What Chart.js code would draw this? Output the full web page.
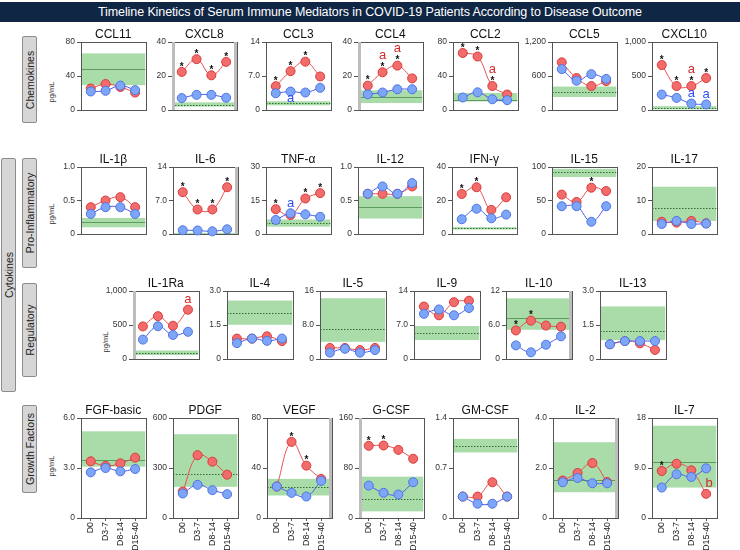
<!DOCTYPE html>
<html><head><meta charset="utf-8">
<script src="https://cdn.jsdelivr.net/npm/chart.js@4.4.1/dist/chart.umd.min.js"></script>
<style>
body{margin:0;width:740px;height:550px;background:#fff;position:relative;overflow:hidden;font-family:"Liberation Sans",Arial,sans-serif;}
#title{position:absolute;left:0;top:2px;width:740px;height:20px;background:#0f2644;color:#fff;font-size:12.5px;line-height:20px;text-align:center;letter-spacing:-0.1px;}
.grp{position:absolute;background:#d6d6d6;border:1px solid #8c8c8c;border-radius:2px;box-sizing:border-box;}
.grp span{position:absolute;left:50%;top:50%;transform:translate(-50%,-50%) rotate(-90deg);white-space:nowrap;font-size:10.5px;color:#222;}
.unit{position:absolute;width:0;height:0;}
.unit span{position:absolute;transform:translate(-50%,-50%) rotate(-90deg);white-space:nowrap;font-size:7.5px;color:#333;}
canvas{position:absolute;}
</style></head><body>
<div id="title">Timeline Kinetics of Serum Immune Mediators in COVID-19 Patients According to Disease Outcome</div>
<div class="grp" style="left:22px;top:36px;width:15px;height:87px"><span>Chemokines</span></div>
<div class="grp" style="left:1px;top:158px;width:15px;height:234px"><span>Cytokines</span></div>
<div class="grp" style="left:22px;top:158px;width:15px;height:110px"><span>Pro-Inflammatory</span></div>
<div class="grp" style="left:22px;top:283px;width:15px;height:94px"><span>Regulatory</span></div>
<div class="grp" style="left:22px;top:405px;width:15px;height:88px"><span>Growth Factors</span></div>
<div class="unit" style="left:51px;top:92px"><span>pg/mL</span></div>
<div class="unit" style="left:51px;top:214px"><span>pg/mL</span></div>
<div class="unit" style="left:105px;top:342px"><span>pg/mL</span></div>
<div class="unit" style="left:51px;top:466px"><span>pg/mL</span></div>
<script>
// ---------------- DATA ----------------
const timepoints = ['D0','D3-7','D8-14','D15-40'];
const mediators = ['CCL11','CXCL8','CCL3','CCL4','CCL2','CCL5','CXCL10',
  'IL-1\u03b2','IL-6','TNF-\u03b1','IL-12','IFN-\u03b3','IL-15','IL-17',
  'IL-1Ra','IL-4','IL-5','IL-9','IL-10','IL-13',
  'FGF-basic','PDGF','VEGF','G-CSF','GM-CSF','IL-2','IL-7'];
const axisMax = [80,40,14,40,80,1200,1000, 1,14,30,1,40,100,20, 1000,3,16,14,12,3, 6,600,80,160,1.4,4,18];
const axisTickText = [['0','40','80'],['0','20','40'],['0','7.0','14'],['0','20','40'],['0','40','80'],['0','600','1,200'],['0','500','1,000'],
  ['0','0.5','1.0'],['0','7.0','14'],['0','15','30'],['0','0.5','1.0'],['0','20','40'],['0','50','100'],['0','10','20'],
  ['0','500','1,000'],['0','1.5','3.0'],['0','8.0','16'],['0','7.0','14'],['0','6.0','12'],['0','1.5','3.0'],
  ['0','3.0','6.0'],['0','300','600'],['0','40','80'],['0','80','160'],['0','0.7','1.4'],['0','2.0','4.0'],['0','9.0','18']];
const redGroup = [[25.3,30.5,27.1,20.5],[22.4,29.9,20.4,28.3],[4.9,8.0,9.95,6.9],[14.3,22.2,26.1,18.6],[67.1,62.9,28.2,18.2],[841,564,422,509],[661,352,352,470],
  [0.40,0.50,0.55,0.40],[8.74,5.12,5.12,9.77],[11.1,8.5,15.9,18.3],[0.60,0.60,0.60,0.71],[23.9,27.9,14.4,21.9],[58.8,47.8,69.1,64.1],[3.65,3.4,3.9,3.2],
  [479,630,489,725],[0.9,0.9,1.0,0.79],[2.6,2.6,2.1,2.6],[10.8,9.0,11.7,12.0],[5.04,6.77,5.9,5.7],[0.65,0.79,0.69,0.40],
  [3.40,3.12,3.28,3.62],[159,377,338,260],[25.2,60.9,41.9,31.3],[115.5,116,109,94.8],[0.30,0.30,0.50,0.30],[1.50,1.80,2.20,1.44],[8.46,9.77,8.58,4.35]];
const blueGroup = [[21.8,22.6,28.7,23.4],[7.0,8.9,8.9,7.2],[3.45,3.8,3.6,4.56],[9.2,10.3,12.2,12.2],[14.7,20.8,12.6,11.6],[722,517,632,549],[227,178,95,82],
  [0.30,0.40,0.40,0.30],[0.79,0.74,0.56,0.98],[6.3,9.3,8.8,7.7],[0.60,0.71,0.60,0.76],[8.8,15.1,9.4,11.6],[41.5,41.5,18.3,41.5],[3.0,3.9,3.0,3.1],
  [285,482,354,400],[0.70,0.9,0.80,0.9],[1.5,2.4,1.5,2.1],[9.3,10.2,9.0,10.5],[2.4,1.18,2.52,4.0],[0.65,0.79,0.79,0.79],
  [2.74,3.0,2.80,2.94],[147,199,167,143],[25.2,20.1,17.2,29.7],[51.9,40.3,37.6,57.2],[0.30,0.20,0.20,0.30],[1.43,1.60,1.39,1.39],[5.48,7.87,7.39,8.94]];
const refLow  = [29.2,2.0,0.97,4.1,10.0,229,10, 0.10,0,3.3,0.23,2.7,85,3.9, 59,1.51,4.04,3.9,5.15,0.83, 3.08,187,18.0,10.6,0.918,1.03,5.48];
const refHigh = [66.6,4.5,1.8,11.6,20.0,414,56, 0.24,0.23,6.5,0.565,4.1,97.3,14.1, 125,2.58,14.3,6.8,10.7,2.32, 5.2,503,31.3,66.2,1.108,3.03,16.6];
const refMid  = [48.2,3.2,1.38,7.6,12.1,312,33, 0.176,0.1,5.0,0.41,3.3,93,7.8, 92,2.02,6.98,5.3,7.16,1.25, 3.46,262,24.6,29.7,1.01,1.51,10.0];
const refMidDotted = [0,1,1,0,0,1,1, 0,1,1,0,1,1,1, 1,1,1,1,0,1, 0,1,1,1,1,0,0];
// significance marks: [panel, group('r'/'b'), timepoint index, text]
const marks = [
  [1,'r',0,'*'],[1,'r',1,'*'],[1,'r',2,'*'],[1,'r',3,'*'],
  [2,'r',0,'*'],[2,'r',1,'*'],[2,'r',2,'*'],[2,'b',1,'a'],
  [3,'r',0,'*'],[3,'r',1,'*'],[3,'r',2,'*'],[3,'r',1,'a'],[3,'r',2,'a'],
  [4,'r',0,'*'],[4,'r',1,'*'],[4,'r',2,'*'],[4,'r',2,'a'],
  [6,'r',0,'*'],[6,'r',1,'*'],[6,'r',2,'*'],[6,'r',3,'*'],[6,'r',2,'a'],[6,'b',2,'a'],[6,'b',3,'a'],
  [8,'r',0,'*'],[8,'r',1,'*'],[8,'r',2,'*'],[8,'r',3,'*'],
  [9,'r',0,'*'],[9,'r',2,'*'],[9,'r',3,'*'],[9,'b',1,'a'],
  [11,'r',0,'*'],[11,'r',1,'*'],
  [12,'r',2,'*'],
  [14,'r',3,'a'],
  [18,'r',0,'*'],[18,'r',1,'*'],
  [22,'r',1,'*'],[22,'r',2,'*'],
  [23,'r',0,'*'],[23,'r',1,'*'],
  [26,'r',0,'*'],[26,'r',3,'b']
];

// ---------------- LAYOUT (plot-area boxes) ----------------
const rows = [
  {top:42, bottom:144, lefts:[81,172,266,358,453,552,652], w:67},
  {top:167, bottom:268, lefts:[81,173,266,358,452,552,652], w:67},
  {top:291, bottom:393, lefts:[133,227,320,414,506,600], w:68},
  {top:418, bottom:518, lefts:[81,173,267,359,453,553,652], w:67}
];
const thickEdges = {1:'lr',3:'l',8:'r',14:'l',18:'r',22:'r',23:'l',25:'r'};

const RED_LINE='#e8504f', RED_FILL='#f36c6c', RED_EDGE='#d83a3a';
const BLUE_LINE='#4d5cf0', BLUE_FILL='#7ea6f8', BLUE_EDGE='#4f74e2';

const deco = {
  id:'deco',
  beforeDatasetsDraw(chart){
    const o = chart.options.plugins.deco, ctx = chart.ctx, a = chart.chartArea, y = chart.scales.y;
    ctx.save();
    ctx.beginPath(); ctx.rect(a.left,a.top,a.width,a.height); ctx.clip();
    const yt = y.getPixelForValue(refHigh[o.k]), yb = y.getPixelForValue(refLow[o.k]);
    ctx.fillStyle = '#a9dca9';
    ctx.fillRect(a.left, yt, a.width, yb-yt);
    const ym = Math.round(y.getPixelForValue(refMid[o.k]))+0.5;
    if (refMidDotted[o.k]) { ctx.strokeStyle='#2f6e2f'; ctx.setLineDash([1.5,1.5]); }
    else { ctx.strokeStyle='#5c9c5c'; ctx.setLineDash([]); }
    ctx.lineWidth = 1;
    ctx.beginPath(); ctx.moveTo(a.left,ym); ctx.lineTo(a.right,ym); ctx.stroke();
    ctx.restore();
    ctx.save();
    ctx.strokeStyle='#555'; ctx.lineWidth=1;
    ctx.strokeRect(Math.round(a.left)+0.5, Math.round(a.top)+0.5, Math.round(a.width), Math.round(a.height));
    const te = thickEdges[o.k] || '';
    ctx.strokeStyle='#bdbdbd'; ctx.lineWidth=3;
    if (te.includes('l')) { ctx.beginPath(); ctx.moveTo(a.left+1.5,a.top); ctx.lineTo(a.left+1.5,a.bottom); ctx.stroke(); }
    if (te.includes('r')) { ctx.beginPath(); ctx.moveTo(a.right-1,a.top); ctx.lineTo(a.right-1,a.bottom); ctx.stroke(); }
    ctx.restore();
  },
  afterDraw(chart){
    const o = chart.options.plugins.deco, ctx = chart.ctx, a = chart.chartArea;
    const x = chart.scales.x, y = chart.scales.y;
    ctx.save();
    ctx.fillStyle='#111'; ctx.font='12px "Liberation Sans", Arial, sans-serif';
    ctx.textAlign='center'; ctx.textBaseline='middle';
    ctx.fillText(mediators[o.k], (a.left+a.right)/2, a.top-7);
    marks.filter(m=>m[0]===o.k).forEach(m=>{
      const vals = m[1]==='r' ? redGroup[o.k] : blueGroup[o.k];
      const px = x.getPixelForValue(m[2]), py = y.getPixelForValue(vals[m[2]]);
      if (m[3]==='*') {
        ctx.fillStyle='#111'; ctx.font='bold 10px "Liberation Sans", Arial, sans-serif';
        ctx.fillText('*', px, py-5);
      } else {
        const hasStar = marks.some(n=>n[0]===o.k && n[1]===m[1] && n[2]===m[2] && n[3]==='*');
        ctx.fillStyle = m[1]==='r' ? '#d42a2a' : '#2f4ff0';
        ctx.font='13px "Liberation Sans", Arial, sans-serif';
        let dy = hasStar ? -17 : -10;
        let dx = m[3]==='b' ? 3 : 0;
        if (o.k===2 && m[1]==='b') dy = 7;
        ctx.fillText(m[3], px+dx, py+dy);
      }
    });
    ctx.restore();
  }
};

const YW=30, PT=16, PR=3, PB=6, XH=34;
let k = 0;
rows.forEach((r, ri)=>{
  const last = ri===rows.length-1;
  r.lefts.forEach(L=>{
    const idx = k++;
    const cv = document.createElement('canvas');
    const w = r.w + YW + PR;
    const h = (r.bottom - r.top) + PT + PB + (last ? XH : 0);
    cv.width = w; cv.height = h;
    cv.style.left = (L - YW) + 'px'; cv.style.top = (r.top - PT) + 'px';
    cv.style.width = w+'px'; cv.style.height = h+'px';
    document.body.appendChild(cv);
    const M = axisMax[idx];
    const mk = (vals, line, fill, edge)=>({
      data: vals.map((v,i)=>({x:i,y:v})),
      borderColor: line, backgroundColor: fill, borderWidth: 1,
      pointRadius: 4.5, pointBorderWidth: 1, pointBackgroundColor: fill, pointBorderColor: edge,
      tension: 0.4, clip: false
    });
    new Chart(cv, {
      type:'line',
      data:{datasets:[ mk(blueGroup[idx], BLUE_LINE, BLUE_FILL, BLUE_EDGE), mk(redGroup[idx], RED_LINE, RED_FILL, RED_EDGE) ]},
      options:{
        responsive:false, animation:false, events:[], devicePixelRatio:1,
        layout:{padding:{top:PT, right:PR, bottom:PB, left:0}},
        plugins:{legend:{display:false}, tooltip:{enabled:false}, deco:{k:idx}},
        scales:{
          x:{type:'linear', min:-0.66, max:3.7, display:last,
             afterBuildTicks:s=>{ s.ticks=[0,1,2,3].map(v=>({value:v})); },
             afterFit:s=>{ s.height = XH; },
             ticks:{autoSkip:false, minRotation:90, maxRotation:90, padding:1, color:'#222',
                    font:{size:8.8, family:'"Liberation Sans", Arial, sans-serif'},
                    callback:v=>timepoints[v]},
             grid:{drawOnChartArea:false, drawTicks:true, tickLength:3, color:'#555'},
             border:{display:true, color:'#555'}},
          y:{min:0, max:M,
             afterBuildTicks:s=>{ s.ticks=[0,M/2,M].map(v=>({value:v})); },
             afterFit:s=>{ s.width = YW; },
             ticks:{padding:2, color:'#333', font:{size:8.5, family:'"Liberation Sans", Arial, sans-serif'},
                    callback:(v,i)=>axisTickText[idx][i]},
             grid:{drawOnChartArea:false, drawTicks:true, tickLength:4, color:'#555'},
             border:{display:true, color:'#555'}}
        }
      },
      plugins:[deco]
    });
  });
});
</script>
</body></html>
